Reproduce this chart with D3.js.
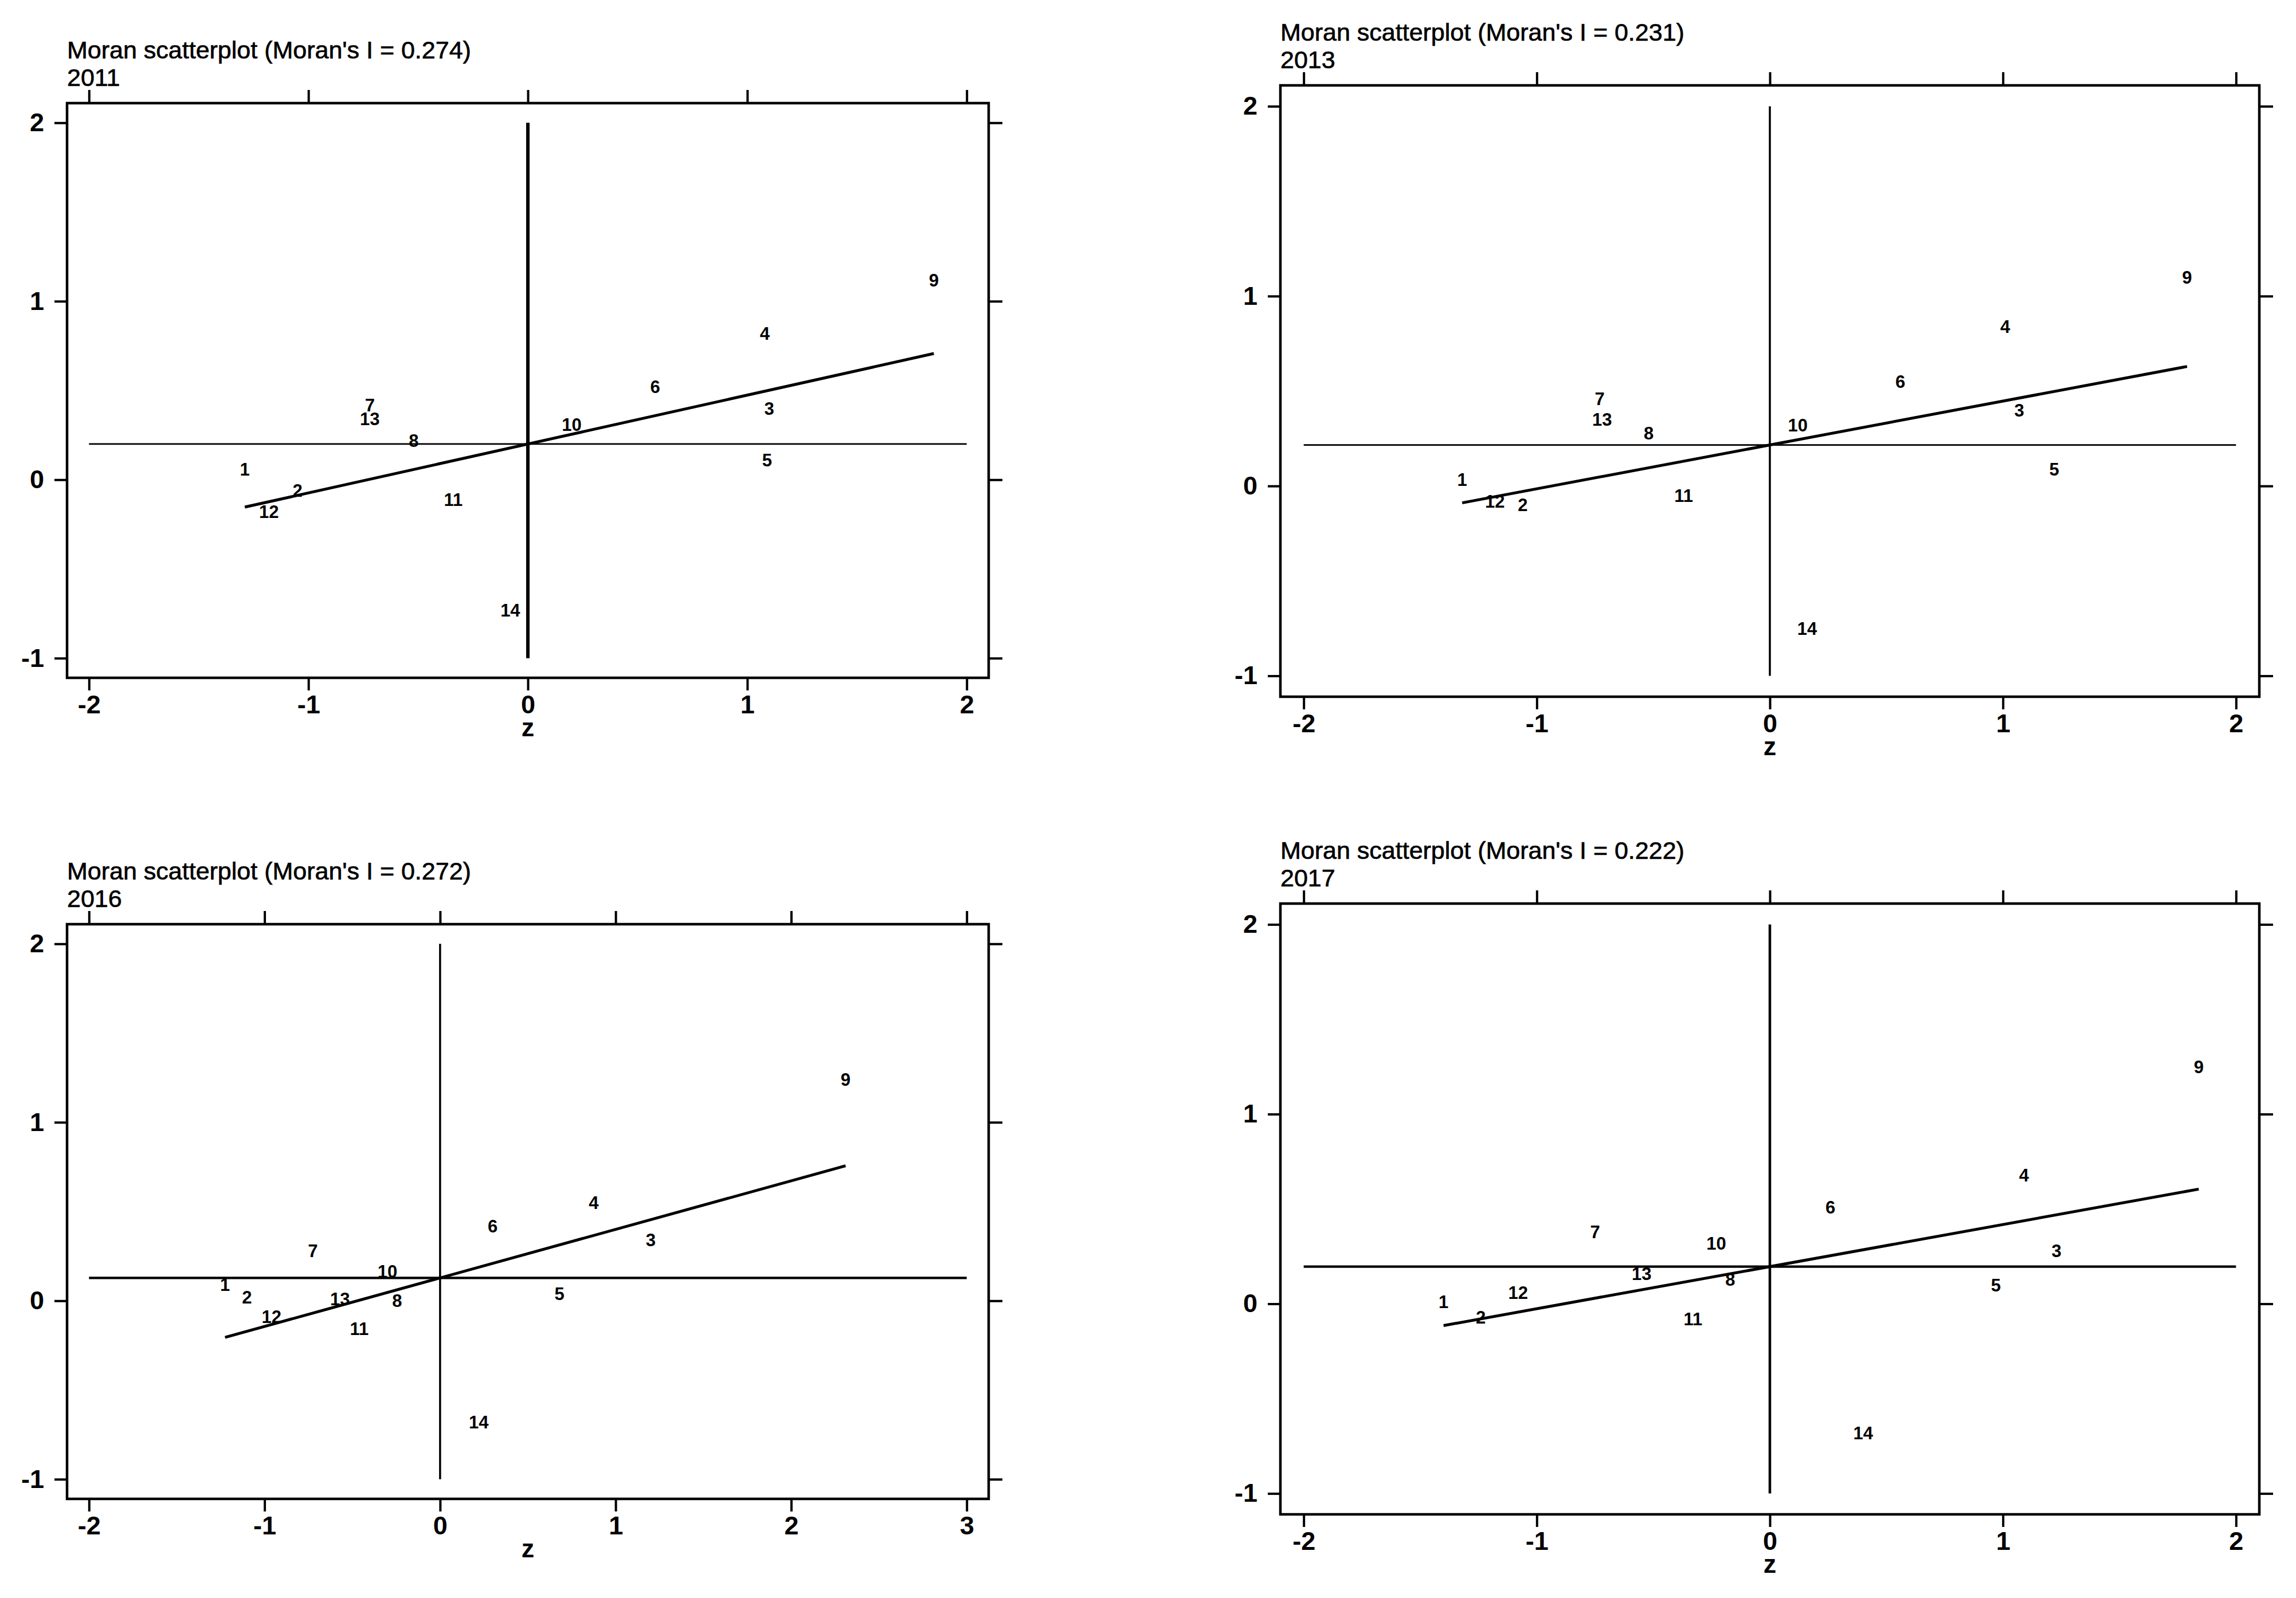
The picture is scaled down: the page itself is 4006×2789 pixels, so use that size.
<!DOCTYPE html>
<html>
<head>
<meta charset="utf-8">
<title>Moran scatterplots</title>
<style>
  body { margin: 0; background: #fff; }
  text { font-family: "Liberation Sans", Arial, sans-serif; fill: #000; }
</style>
</head>
<body>
<svg width="4006" height="2789"></svg>
<script src="https://cdn.jsdelivr.net/npm/d3@7"></script>
<script>
// region ids used as point labels
var ids = [1, 2, 3, 4, 5, 6, 7, 8, 9, 10, 11, 12, 13, 14];

var years = ["2011", "2013", "2016", "2017"];
var moranI = [0.274, 0.231, 0.272, 0.222];
var meanWz = [0.200, 0.216, 0.128, 0.196];

// z (standardised value) and Wz (spatial lag) per year
var z2011  = [-1.29, -1.05, 1.10, 1.08, 1.09, 0.58, -0.72, -0.52, 1.85, 0.20, -0.34, -1.18, -0.72, -0.08];
var wz2011 = [0.06, -0.06, 0.40, 0.82, 0.11, 0.52, 0.42, 0.22, 1.12, 0.31, -0.11, -0.18, 0.34, -0.73];

var z2013  = [-1.32, -1.06, 1.07, 1.01, 1.22, 0.56, -0.73, -0.52, 1.79, 0.12, -0.37, -1.18, -0.72, 0.16];
var wz2013 = [0.035, -0.10, 0.40, 0.84, 0.09, 0.55, 0.46, 0.28, 1.10, 0.32, -0.05, -0.08, 0.35, -0.75];

var z2016  = [-1.225, -1.10, 1.20, 0.875, 0.68, 0.30, -0.725, -0.245, 2.31, -0.30, -0.46, -0.96, -0.57, 0.22];
var wz2016 = [0.09, 0.02, 0.34, 0.55, 0.04, 0.42, 0.28, 0.00, 1.24, 0.165, -0.155, -0.09, 0.01, -0.68];

var z2017  = [-1.40, -1.24, 1.23, 1.09, 0.97, 0.26, -0.75, -0.17, 1.84, -0.23, -0.33, -1.08, -0.55, 0.40];
var wz2017 = [0.01, -0.07, 0.28, 0.68, 0.10, 0.51, 0.38, 0.13, 1.25, 0.32, -0.08, 0.06, 0.16, -0.68];

var zs = [z2011, z2013, z2016, z2017];
var wzs = [wz2011, wz2013, wz2016, wz2017];

// tick values
var xTicksA = [-2, -1, 0, 1, 2];
var xTicksB = [-2, -1, 0, 1, 2, 3];
var yTicks = [-1, 0, 1, 2];
var xTickSets = [xTicksA, xTicksA, xTicksB, xTicksA];

// layout of the four panels (plot box)
var boxes = [
  {x: 117, y: 180, w: 1608, h: 1003, vw: 6},
  {x: 2234, y: 149, w: 1708, h: 1067, vw: 3.5},
  {x: 117, y: 1613, w: 1608, h: 1003, vw: 3.5},
  {x: 2234, y: 1577, w: 1708, h: 1066, vw: 4.5}
];
var hws = [2.8, 2.8, 4.2, 4.2];

var fmt = function(d) { return String(d); };   // plain hyphen minus, like the original

var svg = d3.select("svg");
svg.append("rect").attr("width", 4006).attr("height", 2789).attr("fill", "#fff");

boxes.forEach(function(b, i) {
  var xt = xTickSets[i],
      xmin = xt[0], xmax = xt[xt.length - 1],
      xpad = (xmax - xmin) * 0.025;

  var x = d3.scaleLinear().domain([xmin - xpad, xmax + xpad]).range([0, b.w]);
  var y = d3.scaleLinear().domain([-1.11, 2.11]).range([b.h, 0]);

  var g = svg.append("g").attr("transform", "translate(" + b.x + "," + b.y + ")");

  // titles
  g.append("text").attr("x", 0).attr("y", -78)
      .style("font-size", "43px")
      .attr("stroke", "#000").attr("stroke-width", 0.7)
      .text("Moran scatterplot (Moran's I = " + moranI[i].toFixed(3) + ")");
  g.append("text").attr("x", 0).attr("y", -30)
      .style("font-size", "43px")
      .attr("stroke", "#000").attr("stroke-width", 0.7)
      .text(years[i]);

  // axes
  var ax = [
    d3.axisBottom(x).tickValues(xt).tickFormat(fmt).tickSize(22).tickPadding(8),
    d3.axisTop(x).tickValues(xt).tickFormat("").tickSize(23),
    d3.axisLeft(y).tickValues(yTicks).tickFormat(fmt).tickSize(22).tickPadding(18),
    d3.axisRight(y).tickValues(yTicks).tickFormat("").tickSize(24)
  ];
  var pos = ["translate(0," + b.h + ")", null, null, "translate(" + b.w + ",0)"];
  ax.forEach(function(a, k) {
    var ag = g.append("g").attr("transform", pos[k]).call(a.tickSizeOuter(0));
    ag.select(".domain").remove();
    ag.selectAll(".tick line").attr("stroke", "#000").attr("stroke-width", 4);
    ag.selectAll(".tick text")
        .style("font-family", "'Liberation Sans', Arial, sans-serif")
        .style("font-size", "45px").style("font-weight", "bold").attr("fill", "#000");
  });

  // x axis title
  g.append("text").attr("x", b.w / 2).attr("y", b.h + 102)
      .attr("text-anchor", "middle")
      .style("font-size", "45px").style("font-weight", "bold")
      .text("z");

  // reference lines
  g.append("line")
      .attr("x1", x(xmin)).attr("x2", x(xmax))
      .attr("y1", y(meanWz[i])).attr("y2", y(meanWz[i]))
      .attr("stroke", "#000").attr("stroke-width", hws[i]);
  g.append("line")
      .attr("x1", x(0)).attr("x2", x(0))
      .attr("y1", y(-1)).attr("y2", y(2))
      .attr("stroke", "#000").attr("stroke-width", b.vw);

  // fitted line, slope = Moran's I
  var ext = d3.extent(zs[i]);
  g.append("line")
      .attr("x1", x(ext[0])).attr("y1", y(meanWz[i] + moranI[i] * ext[0]))
      .attr("x2", x(ext[1])).attr("y2", y(meanWz[i] + moranI[i] * ext[1]))
      .attr("stroke", "#000").attr("stroke-width", 5);

  // point labels
  g.selectAll(".lab")
    .data(ids)
    .enter().append("text")
      .attr("class", "lab")
      .attr("x", function(d, k) { return x(zs[i][k]); })
      .attr("y", function(d, k) { return y(wzs[i][k]); })
      .attr("dy", "0.36em")
      .attr("text-anchor", "middle")
      .style("font-size", "31px").style("font-weight", "bold")
      .text(function(d) { return d; });

  // frame
  g.append("rect").attr("width", b.w).attr("height", b.h)
      .attr("fill", "none").attr("stroke", "#000").attr("stroke-width", 4.5);
});
</script>
</body>
</html>
